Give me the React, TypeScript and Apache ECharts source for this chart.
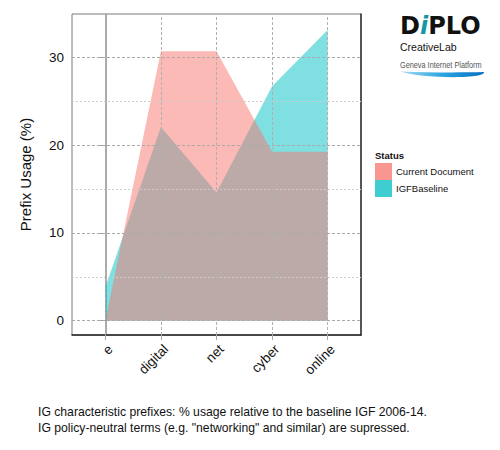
import React, { useEffect, useRef } from "react";
import * as echarts from "echarts";

const categories = ["e", "digital", "net", "cyber", "online"];
const seriesNames = ["Current Document", "IGFBaseline"];
const currentDocument = [0, 30.7, 30.7, 19.25, 19.25];
const igfBaseline = [3.8, 22.05, 14.6, 26.7, 33.1];
const yTicks = [0, 10, 20, 30];
const yMinorTicks = [5, 15, 25];
const captionLines = [
  "IG characteristic prefixes: % usage relative to the baseline IGF 2006-14.",
  "IG policy-neutral terms (e.g. \"networking\" and similar) are supressed.",
];

const FONT = "'Liberation Sans', Arial, sans-serif";

let registered = false;
function registerSwoosh() {
  if (registered) return;
  registered = true;
  echarts.graphic.registerShape(
    "swoosh",
    echarts.graphic.extendPath(
      "M0,0 C30,1.2 60,1.2 84,0.6 C84.5,2.5 80,5.2 60,5.6 C35,6 14,4 0,0 Z",
      {}
    )
  );
}

export default function App() {
  const ref = useRef<HTMLDivElement>(null);
  useEffect(() => {
    document.body.style.margin = "0";
    registerSwoosh();
    const chart = echarts.init(ref.current!, null, { renderer: "svg" });
    const xIdx = categories.map((_, i) => i);
    const toPts = (arr: number[]) => arr.map((v, i) => [i, v]);
    const option: any = {
      animation: false,
      grid: {
        left: 72,
        top: 14,
        right: 139,
        bottom: 115,
        show: true,
        borderColor: "#7a7a7a",
        borderWidth: 1,
        backgroundColor: "#fff",
      },
      xAxis: {
        type: "value",
        min: -0.6,
        max: 4.6,
        splitLine: { show: false },
        axisLine: { show: true, onZero: false, lineStyle: { color: "#222", width: 1.5 } },
        axisTick: { show: true, customValues: xIdx, length: 5, lineStyle: { color: "#aaa" } },
        axisLabel: {
          customValues: xIdx,
          rotate: 45,
          margin: 7,
          align: "right",
          verticalAlign: "top",
          color: "#111",
          fontSize: 13.5,
          fontFamily: FONT,
          formatter: (v: number) => categories[Math.round(v)] ?? "",
        },
      },
      yAxis: [
        {
          type: "value",
          min: -1.63,
          max: 34.93,
          name: "Prefix Usage (%)",
          nameLocation: "middle",
          nameGap: 39,
          nameTextStyle: { fontSize: 15, fontFamily: FONT, color: "#111" },
          splitLine: { show: false },
          axisLine: { show: true, lineStyle: { color: "#aaa", width: 2 } },
          axisTick: { show: true, customValues: yTicks, length: 5, lineStyle: { color: "#888" } },
          axisLabel: {
            customValues: yTicks,
            margin: 8,
            color: "#111",
            fontSize: 13.5,
            fontFamily: FONT,
          },
        },
        {
          type: "value",
          position: "right",
          min: -1.63,
          max: 34.93,
          splitLine: { show: false },
          axisLine: { show: true, lineStyle: { color: "#333", width: 1.5 } },
          axisTick: { show: false },
          axisLabel: { show: false },
        },
      ],
      series: [
        {
          type: "line",
          name: "grid",
          data: [],
          z: 1,
          silent: true,
          markLine: {
            silent: true,
            symbol: "none",
            animation: false,
            label: { show: false },
            emphasis: { disabled: true },
            data: [
              ...yMinorTicks.map((v) => ({
                yAxis: v,
                lineStyle: { color: "#cccccc", type: [2, 2], width: 1 },
              })),
              ...yTicks.map((v) => ({
                yAxis: v,
                lineStyle: { color: "#aaaaaa", type: [3, 2], width: 1 },
              })),
              ...xIdx.map((v) => ({
                xAxis: v,
                lineStyle: { color: "#b0b0b0", type: [3, 2], width: 1 },
              })),
            ],
          },
        },
        {
          type: "line",
          name: seriesNames[1],
          data: toPts(igfBaseline),
          z: 2,
          symbol: "none",
          lineStyle: { width: 0, opacity: 0 },
          areaStyle: { color: "#00BFC4", opacity: 0.5 },
        },
        {
          type: "line",
          name: seriesNames[0],
          data: toPts(currentDocument),
          z: 3,
          symbol: "none",
          lineStyle: { width: 0, opacity: 0 },
          areaStyle: { color: "#F8766D", opacity: 0.5 },
        },
      ],
      graphic: [
        // Legend
        {
          type: "text",
          left: 375,
          top: 150,
          style: { text: "Status", fontSize: 9.5, fontWeight: "bold", fontFamily: FONT, fill: "#111" },
        },
        {
          type: "rect",
          shape: { x: 375, y: 163, width: 17, height: 17 },
          style: { fill: "#F8968F" },
        },
        {
          type: "rect",
          shape: { x: 375, y: 180, width: 17, height: 17 },
          style: { fill: "#3ECDD0" },
        },
        {
          type: "text",
          x: 396,
          y: 171.5,
          style: { text: seriesNames[0], fontSize: 9.5, fontFamily: FONT, fill: "#111", verticalAlign: "middle" },
        },
        {
          type: "text",
          x: 396,
          y: 188.5,
          style: { text: seriesNames[1], fontSize: 9.5, fontFamily: FONT, fill: "#111", verticalAlign: "middle" },
        },
        // Logo
        {
          type: "text",
          x: 400,
          y: 38,
          style: {
            text: "{a|D}{b|i}{a|PLO}",
            verticalAlign: "bottom",
            rich: {
              a: { fontSize: 24, fontWeight: 900, fontFamily: "'DejaVu Sans', sans-serif", fill: "#111" },
              b: { fontSize: 24, fontWeight: 900, fontStyle: "italic", fontFamily: "'DejaVu Sans', sans-serif", fill: "#1597a8" },
            },
          },
        },
        {
          type: "text",
          x: 400,
          y: 47,
          style: { text: "CreativeLab", fontSize: 10.5, fontFamily: FONT, fill: "#111", verticalAlign: "middle" },
        },
        {
          type: "text",
          x: 400,
          y: 65,
          scaleX: 0.77,
          style: {
            text: "Geneva Internet Platform",
            fontSize: 9.5,
            fontFamily: FONT,
            fill: "#555",
            verticalAlign: "middle",
          },
        },
        {
          type: "swoosh",
          x: 400,
          y: 71.5,
          style: {
            fill: new echarts.graphic.LinearGradient(0, 0, 1, 0, [
              { offset: 0, color: "#a8dcf2" },
              { offset: 0.5, color: "#2aa6e0" },
              { offset: 1, color: "#0a6fc0" },
            ]),
          },
        },
        // Caption
        ...captionLines.map((t, i) => ({
          type: "text",
          x: 38,
          y: 411.5 + i * 16.3,
          style: { text: t, fontSize: 12.2, fontFamily: FONT, fill: "#111", verticalAlign: "middle" },
        })),
      ],
    };
    chart.setOption(option);
    return () => chart.dispose();
  }, []);
  return <div ref={ref} style={{ width: 500, height: 450 }} />;
}
